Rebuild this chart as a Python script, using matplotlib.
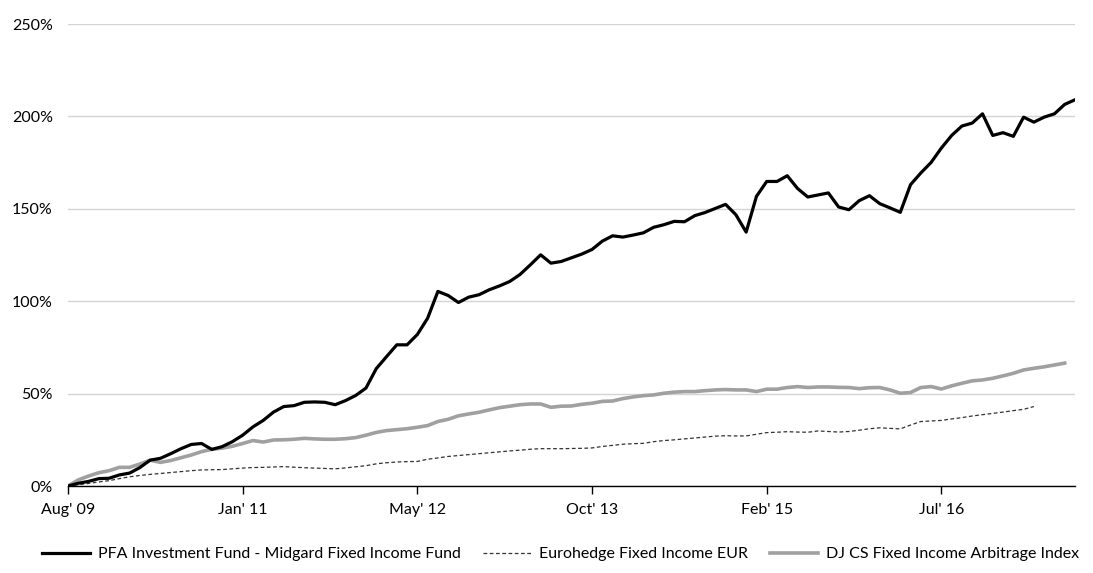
import matplotlib
matplotlib.use("Agg")
import matplotlib.pyplot as plt
from matplotlib.ticker import FuncFormatter

# cumulative performance in %, monthly from Aug 2009
midgard = [
    0, 1.5, 2.5, 4, 4.2, 6, 7, 10, 14, 15,
    17.5, 20.2, 22.5, 23, 19.8, 21.3, 24, 27.5, 32, 35.5,
    40, 43, 43.5, 45.3, 45.5, 45.3, 44, 46.2, 49, 53,
    63.5, 70, 76.4, 76.4, 82, 90.8, 105.3, 103.1, 99.3, 102.2,
    103.5, 106.2, 108.3, 110.7, 114.5, 119.7, 125.1, 120.6, 121.5, 123.5,
    125.5, 128, 132.5, 135.4, 134.7, 135.8, 137, 140, 141.4, 143.2,
    143, 146.3, 148, 150.2, 152.4, 146.8, 137.4, 156.7, 164.8, 164.8,
    167.9, 161, 156.4, 157.5, 158.6, 151, 149.5, 154.4, 157.1, 152.8,
    150.5, 148.1, 163.1, 169.4, 175.1, 182.9, 189.7, 194.8, 196.4, 201.4,
    189.7, 191.2, 189.2, 199.6, 196.9, 199.6, 201.4, 206.5, 209,
]
eurohedge = [
    0, 0.7, 1.4, 2.2, 2.9, 4, 5, 5.7, 6.3, 6.8,
    7.3, 7.8, 8.3, 8.7, 8.8, 8.9, 9.3, 9.7, 10, 10.1,
    10.3, 10.5, 10.2, 9.9, 9.7, 9.5, 9.3, 9.8, 10.4, 11,
    12, 12.6, 13, 13.2, 13.3, 14.5, 15.2, 16, 16.5, 17,
    17.5, 18, 18.5, 19, 19.4, 19.9, 20.2, 20.2, 20.2, 20.3,
    20.4, 20.6, 21.4, 22, 22.6, 22.9, 23.1, 24, 24.6, 25,
    25.5, 26, 26.5, 27, 27.2, 27.1, 27.1, 28, 28.9, 29.1,
    29.4, 29.2, 29.1, 29.8, 29.5, 29.2, 29.5, 30.2, 31, 31.5,
    31.2, 30.9, 33, 34.9, 35.2, 35.5, 36.3, 37, 37.9, 38.6,
    39.3, 40, 40.8, 41.5, 43,
]
djcs = [
    0, 3.3, 5.4, 7.2, 8.3, 10.1, 10.1, 11.9, 14, 12.8,
    13.8, 15.3, 16.8, 18.6, 19.9, 20.5, 21.5, 23, 24.6, 23.8,
    24.9, 25, 25.3, 25.8, 25.5, 25.3, 25.3, 25.6, 26.2, 27.5,
    29, 30, 30.5, 31, 31.8, 32.7, 34.9, 36.1, 38, 39,
    39.9, 41.2, 42.4, 43.2, 44, 44.4, 44.4, 42.6, 43.2, 43.3,
    44.2, 44.8, 45.8, 46, 47.3, 48.2, 48.9, 49.3, 50.2, 50.8,
    51.1, 51.1, 51.6, 52, 52.2, 52, 52, 51.1, 52.4, 52.4,
    53.3, 53.8, 53.3, 53.6, 53.6, 53.4, 53.3, 52.7, 53.2, 53.3,
    52, 50.2, 50.6, 53.3, 53.8, 52.5, 54.2, 55.6, 56.9, 57.4,
    58.3, 59.6, 61, 62.8, 63.7, 64.5, 65.5, 66.5,
]
tick_pos = [0, 17, 34, 51, 68, 85]
tick_labels = ["Aug' 09", "Jan' 11", "May' 12", "Oct' 13", "Feb' 15", "Jul' 16"]

plt.rcParams["font.family"] = ["Lato", "DejaVu Sans"]

fig = plt.figure(figsize=(10.93, 5.73), dpi=100)
ax = fig.add_axes([0.0622, 0.1518, 0.9213, 0.8063])

ax.plot(range(len(midgard)), midgard, color="black", lw=2.3,
        label="PFA Investment Fund - Midgard Fixed Income Fund", zorder=4)
ax.plot(range(len(eurohedge)), eurohedge, color="#333333", lw=0.9,
        dashes=(3, 2), label="Eurohedge Fixed Income EUR", zorder=3)
ax.plot(range(len(djcs)), djcs, color="#a0a0a0", lw=2.6,
        label="DJ CS Fixed Income Arbitrage Index", zorder=2)

ax.set_xlim(0, 98)
ax.set_ylim(0, 250)
ax.set_yticks(range(0, 251, 50))
ax.yaxis.set_major_formatter(FuncFormatter(lambda v, _: f"{int(v)}%"))
ax.set_xticks(tick_pos)
ax.set_xticklabels(tick_labels)

ax.grid(axis="y", color="#d4d4d4", lw=1)
ax.set_axisbelow(True)
for side in ["left", "right", "top"]:
    ax.spines[side].set_visible(False)
ax.spines["bottom"].set_color("black")
ax.spines["bottom"].set_linewidth(1)

ax.tick_params(axis="y", length=0, pad=11, labelsize=11.5)
ax.tick_params(axis="x", length=6, width=1, direction="out", pad=6, labelsize=11.5)

fig.legend(loc="lower center", bbox_to_anchor=(0.513, -0.005), ncol=3, frameon=False,
           fontsize=11.5, handlelength=3.0, columnspacing=1.4, handletextpad=0.5)

fig.savefig("out.png", dpi=100)
